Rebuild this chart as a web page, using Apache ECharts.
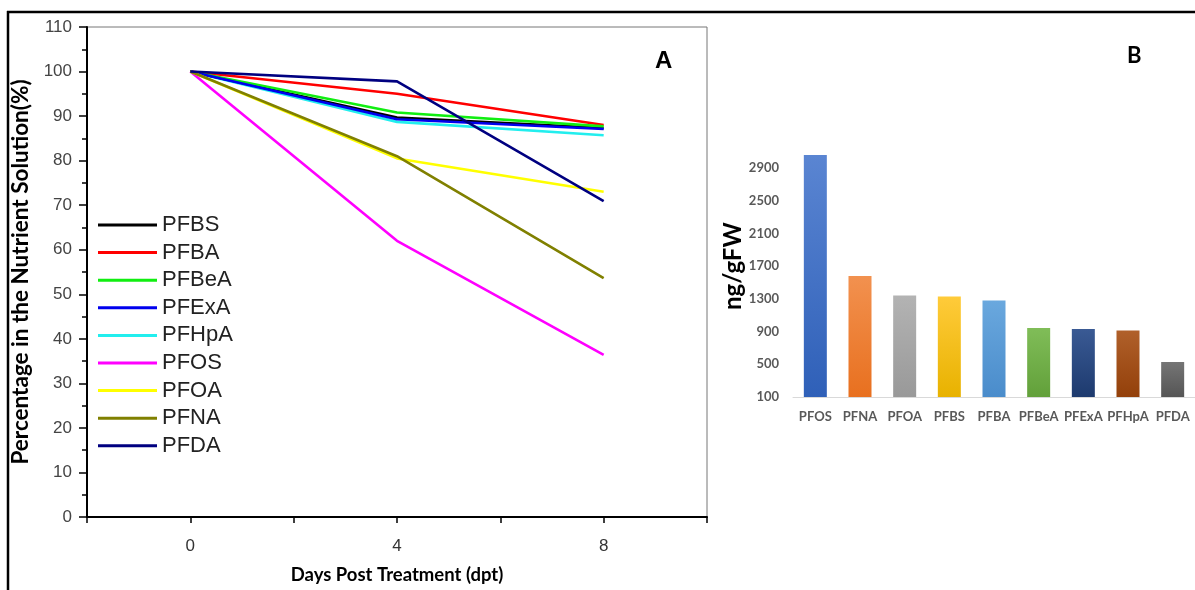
<!DOCTYPE html>
<html><head><meta charset="utf-8">
<script src="https://cdn.jsdelivr.net/npm/echarts@6/dist/echarts.min.js"></script>
<style>html,body{margin:0;padding:0;background:#fff}#c{width:1195px;height:590px}</style>
</head><body><div id="c"></div>
<script>
// ---- Panel A data ----
const days = [0, 4, 8];
const seriesNames = ['PFBS','PFBA','PFBeA','PFExA','PFHpA','PFOS','PFOA','PFNA','PFDA'];
const PFBS  = [100, 89.7, 87.3];
const PFBA  = [100, 95.0, 88.0];
const PFBeA = [100, 90.8, 87.7];
const PFExA = [100, 89.3, 87.1];
const PFHpA = [100, 88.7, 85.7];
const PFOS  = [100, 62.0, 36.4];
const PFOA  = [100, 80.5, 73.0];
const PFNA  = [100, 81.0, 53.6];
const PFDA  = [100, 97.8, 70.9];
const lineColors = ['#000000','#ff0000','#11ee11','#0000ee','#22eeee','#ff00ff','#ffff00','#808000','#000080'];
const xTickLabels = ['0','4','8'];

// ---- Panel B data ----
const compounds = ['PFOS','PFNA','PFOA','PFBS','PFBA','PFBeA','PFExA','PFHpA','PFDA'];
const concentration = [3060, 1580, 1340, 1330, 1280, 945, 932, 912, 528];
const barColors = [['#5a85d2','#2f60b8'],['#f2914f','#e8701f'],['#b3b3b3','#999999'],['#ffcb3a','#e8b200'],['#6aa8de','#4a8ccb'],['#80bd58','#62a03a'],['#3a5a94','#1d3a6e'],['#b0602a','#93400a'],['#757575','#555555']];

const lineData = [PFBS,PFBA,PFBeA,PFExA,PFHpA,PFOS,PFOA,PFNA,PFDA];

const chart = echarts.init(document.getElementById('c'));
const sans = 'Liberation Sans, Arial, sans-serif';
const lato = 'Lato, sans-serif';

chart.setOption({
  animation: false,
  backgroundColor: '#fff',
  graphic: [
    {type:'line', shape:{x1:7, y1:12, x2:1195, y2:12}, style:{stroke:'#000', lineWidth:2.5}},
    {type:'line', shape:{x1:8, y1:11, x2:8, y2:590}, style:{stroke:'#000', lineWidth:2.5}},
    {type:'text', left:655, top:49, style:{text:'A', font:'bold 24px ' + sans, fill:'#000'}},
    {type:'text', left:1127, top:45, style:{text:'B', font:'bold 22px ' + lato, fill:'#000'}}
  ],
  legend: {
    data: seriesNames,
    orient: 'vertical',
    left: 98, top: 214, padding: 0,
    itemWidth: 59, itemHeight: 3, itemGap: 5.6,
    icon: 'rect',
    textStyle: {fontFamily: sans, fontSize: 22, color: '#222', lineHeight: 20}
  },
  grid: [
    {left: 87, top: 27, width: 620, height: 495, show: true, borderColor: '#777', borderWidth: 1},
    {left: 793, top: 135.3, width: 409.5, height: 261.7}
  ],
  xAxis: [
    {gridIndex:0, type:'value', min:-2, max:10, interval:2,
     axisLine:{show:true, onZero:false, lineStyle:{color:'#000', width:2}},
     axisTick:{show:true, length:6, lineStyle:{color:'#000', width:1.5}},
     splitLine:{show:false},
     axisLabel:{margin:21, fontFamily:sans, fontSize:17, color:'#333',
       formatter: v => xTickLabels.indexOf(String(v)) >= 0 ? String(v) : ''},
     name:'Days Post Treatment (dpt)', nameLocation:'middle', nameGap:49,
     nameTextStyle:{fontFamily:lato, fontWeight:'bold', fontSize:18.5, color:'#000'}},
    {gridIndex:1, type:'category', data: compounds,
     axisLine:{show:true, lineStyle:{color:'#d9d9d9', width:1}},
     axisTick:{show:false},
     axisLabel:{margin:13, fontFamily:lato, fontWeight:'bold', fontSize:13, color:'#595959', interval:0}}
  ],
  yAxis: [
    {gridIndex:0, type:'value', min:0, max:110, interval:10,
     axisLine:{show:true, onZero:false, lineStyle:{color:'#000', width:2}},
     axisTick:{show:true, length:8, lineStyle:{color:'#000', width:1.5}},
     minorTick:{show:true, splitNumber:2, length:5, lineStyle:{color:'#000', width:1.5}},
     splitLine:{show:false},
     axisLabel:{margin:15, fontFamily:sans, fontSize:17, color:'#444'},
     name:'Percentage in the Nutrient Solution(%)', nameLocation:'middle', nameGap:53,
     nameTextStyle:{fontFamily:lato, fontWeight:'bold', fontSize:22.5, color:'#000'}},
    {gridIndex:1, type:'value', min:100, max:3300, interval:400,
     axisLine:{show:false}, axisTick:{show:false}, splitLine:{show:false},
     axisLabel:{margin:14, showMaxLabel:false, fontFamily:lato, fontWeight:'bold', fontSize:13, color:'#595959',
       formatter: v => String(v)},
     name:'ng/gFW', nameLocation:'middle', nameGap:45,
     nameTextStyle:{fontFamily:lato, fontWeight:'bold', fontSize:24, color:'#000'}}
  ],
  series: seriesNames.map((n, i) => ({
    name: n, type: 'line', xAxisIndex:0, yAxisIndex:0,
    data: days.map((d, j) => [d, lineData[i][j]]),
    showSymbol: false, symbol:'none',
    z: n === 'PFHpA' ? 1 : 2,
    lineStyle: {color: lineColors[i], width: 2.6},
    itemStyle: {color: lineColors[i]}
  })).concat([{
    type:'bar', xAxisIndex:1, yAxisIndex:1, barWidth:23,
    data: concentration.map((v, i) => ({value: v, itemStyle: {color: new echarts.graphic.LinearGradient(0,0,0,1,[{offset:0,color:barColors[i][0]},{offset:1,color:barColors[i][1]}])}}))
  }])
});
</script></body></html>
